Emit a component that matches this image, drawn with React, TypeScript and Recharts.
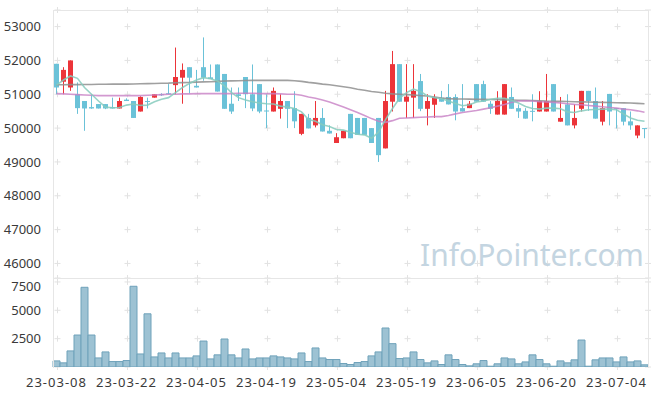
import { ComposedChart, BarChart, Bar, Line, XAxis, YAxis, CartesianGrid } from 'recharts'

const dates = [
  '23-03-08', '23-03-09', '23-03-10', '23-03-13', '23-03-14', '23-03-15', '23-03-16', '23-03-17', '23-03-20', '23-03-21',
  '23-03-22', '23-03-23', '23-03-24', '23-03-27', '23-03-28', '23-03-29', '23-03-30', '23-03-31', '23-04-03', '23-04-04',
  '23-04-05', '23-04-06', '23-04-07', '23-04-10', '23-04-11', '23-04-12', '23-04-13', '23-04-14', '23-04-17', '23-04-18',
  '23-04-19', '23-04-20', '23-04-21', '23-04-24', '23-04-25', '23-04-26', '23-04-27', '23-04-28', '23-05-02', '23-05-03',
  '23-05-04', '23-05-08', '23-05-09', '23-05-10', '23-05-11', '23-05-12', '23-05-15', '23-05-16', '23-05-17', '23-05-18',
  '23-05-19', '23-05-22', '23-05-23', '23-05-24', '23-05-25', '23-05-26', '23-05-30', '23-05-31', '23-06-01', '23-06-02',
  '23-06-05', '23-06-07', '23-06-08', '23-06-09', '23-06-12', '23-06-13', '23-06-14', '23-06-15', '23-06-16', '23-06-19',
  '23-06-20', '23-06-21', '23-06-22', '23-06-23', '23-06-26', '23-06-27', '23-06-28', '23-06-29', '23-06-30', '23-07-03',
  '23-07-04', '23-07-05', '23-07-06', '23-07-07', '23-07-10',
]

const opens = [
  51900, 51370, 51200, 51000, 50800, 50620, 50710, 50710, 50620, 50580,
  50840, 50800, 50490, 50800, 50900, 51000, 51030, 51270, 51490, 51800,
  51250, 51800, 51500, 51880, 51600, 50720, 51000, 51510, 51000, 51300,
  50520, 50490, 50570, 50800, 50590, 49830, 50300, 50080, 50300, 49920,
  49560, 49700, 50420, 50300, 50300, 50000, 50300, 49400, 50780, 51890,
  50780, 50900, 51390, 50570, 50690, 50900, 50920, 50920, 50590, 50590,
  51300, 51300, 50720, 50400, 50400, 50920, 50590, 50510, 50510, 50490,
  50490, 51300, 50190, 50700, 50080, 50570, 51100, 50800, 50190, 51010,
  50590, 50590, 50200, 49780, 50000,
]
const highs = [
  51900, 51800, 52000, 51350, 50800, 51000, 50710, 50710, 50900, 50900,
  50880, 50800, 50940, 50900, 51000, 51030, 51300, 52380, 51910, 51800,
  51720, 52680, 51880, 51880, 51600, 51200, 51200, 51510, 51880, 51300,
  51000, 51200, 51000, 50800, 51090, 50420, 50420, 50800, 50590, 50080,
  49850, 49920, 50420, 50300, 50300, 50000, 50300, 51100, 52280, 51890,
  51890, 51890, 51600, 51000, 51000, 51100, 51300, 51000, 51300, 50800,
  51300, 51400, 50800, 51090, 51300, 51200, 50700, 50590, 51000, 51090,
  51600, 51300, 50920, 51000, 50700, 51100, 51100, 51200, 50800, 51010,
  50590, 50590, 50490, 50080, 50000,
]
const lows = [
  51000, 51000, 51100, 50420, 49920, 50570, 50580, 50560, 50580, 50580,
  50800, 50300, 50490, 50580, 50900, 50950, 51000, 51000, 50720, 51030,
  51200, 51400, 51450, 51080, 50570, 50420, 50800, 50590, 50500, 50440,
  50000, 50490, 50280, 50000, 50000, 49790, 49990, 50020, 49900, 49840,
  49560, 49700, 49700, 49800, 49800, 49560, 49000, 49400, 50490, 50780,
  50300, 50300, 50500, 50080, 50300, 50780, 50700, 50230, 50490, 50590,
  50780, 50780, 50420, 50400, 50400, 50570, 50300, 50280, 50200, 50490,
  50490, 50490, 50190, 50080, 49990, 50490, 50510, 50280, 50080, 50080,
  49990, 50080, 49950, 49700, 49700,
]
const closes = [
  51200, 51720, 52000, 50590, 50580, 50580, 50580, 50580, 50580, 50800,
  50800, 50300, 50920, 50770, 51000, 50980, 51000, 51510, 51720, 51490,
  51200, 51490, 51450, 51080, 50570, 50490, 50950, 51000, 50580, 50490,
  50500, 51100, 50800, 50570, 50200, 50420, 49990, 50300, 49900, 49840,
  49730, 49920, 49700, 49800, 49800, 49560, 49200, 50800, 51890, 50780,
  50930, 51100, 50570, 50800, 50920, 50780, 50700, 50490, 50490, 50720,
  50780, 50780, 50570, 50800, 51300, 50570, 50490, 50280, 50490, 50800,
  50800, 50490, 50300, 50080, 50300, 51100, 50800, 50280, 50590, 50490,
  50570, 50190, 50080, 50080, 49980,
]

const volumes = [
  540, 365, 1420, 2820, 7030, 2820, 800, 1330, 480, 480,
  570, 7120, 1150, 4690, 890, 1240, 800, 1240, 800, 800,
  980, 2290, 715, 1070, 2470, 1070, 800, 1590, 715, 800,
  800, 980, 890, 800, 715, 1240, 480, 1680, 800, 660,
  660, 310, 220, 395, 480, 980, 1330, 3440, 2060, 745,
  800, 1330, 660, 365, 540, 220, 1070, 660, 220, 100,
  280, 570, 70, 280, 800, 715, 280, 450, 1070, 660,
  280, 70, 540, 365, 630, 2380, 70, 630, 800, 800,
  450, 890, 450, 540, 190,
]

const ma5 = [
  51270, 51420, 51540, 51470, 51200, 51000, 50800, 50620, 50600, 50610,
  50680, 50710, 50670, 50680, 50780, 50850, 50900, 51050, 51200, 51320,
  51420, 51490, 51460, 51390, 51250, 51050, 50900, 50830, 50780, 50740,
  50720, 50710, 50650, 50620, 50580, 50480, 50250, 50200, 50100, 50050,
  49960, 49940, 49880, 49820, 49800, 49700, 49880, 50250, 50580, 50880,
  51050, 51150, 51080, 50950, 50900, 50870, 50800, 50730, 50660, 50690,
  50770, 50800, 50850, 50880, 50880, 50820, 50740, 50640, 50580, 50560,
  50590, 50590, 50570, 50480, 50460, 50510, 50540, 50550, 50560, 50560,
  50540, 50420, 50300, 50230, 50200,
]
const ma20 = [
  51020, 51010, 51000, 50990, 50980, 50970, 50960, 50960, 50960, 50960,
  50960, 50960, 50960, 50970, 50980, 50990, 51000, 51000, 51010, 51010,
  51020, 51020, 51020, 51020, 51020, 51020, 51030, 51030, 51030, 51020,
  51020, 51020, 51010, 51000, 51000, 50970, 50920, 50880, 50830, 50770,
  50700, 50620, 50540, 50460, 50370, 50280, 50200, 50170, 50220, 50290,
  50300, 50310, 50320, 50330, 50340, 50340, 50370, 50420, 50460, 50490,
  50520, 50560, 50600, 50650, 50700, 50760, 50800, 50810, 50800, 50780,
  50770, 50760, 50740, 50720, 50700, 50690, 50670, 50650, 50630, 50610,
  50590, 50560, 50540, 50510, 50470,
]
const ma60 = [
  51280, 51280, 51285, 51285, 51290, 51290, 51295, 51295, 51300, 51300,
  51300, 51305, 51310, 51315, 51320, 51325, 51330, 51340, 51345, 51350,
  51360, 51365, 51370, 51380, 51390, 51395, 51400, 51405, 51410, 51410,
  51410, 51410, 51410, 51410, 51400, 51380, 51350, 51330, 51300, 51280,
  51250, 51220, 51190, 51150, 51120, 51080, 51060, 51030, 51010, 51000,
  50990, 50980, 50960, 50950, 50920, 50890, 50870, 50860, 50860, 50855,
  50850, 50850, 50845, 50840, 50835, 50830, 50825, 50820, 50815, 50810,
  50800, 50795, 50790, 50785, 50780, 50775, 50770, 50765, 50760, 50755,
  50750, 50745, 50740, 50730, 50720,
]

const priceTicks = [46000, 47000, 48000, 49000, 50000, 51000, 52000, 53000]
const volumeTicks = [2500, 5000, 7500]

const data = dates.map((date, i) => ({
  date,
  open: opens[i],
  high: highs[i],
  low: lows[i],
  close: closes[i],
  range: [lows[i], highs[i]],
  volume: volumes[i],
  ma5: ma5[i],
  ma20: ma20[i],
  ma60: ma60[i],
}))

const RED = '#ec3439'
const BLUE = '#6bc2d8'
const FONT = '"Noto Sans", sans-serif'
const tickStyle = { fill: '#3a3a3a', fontSize: 13, fontFamily: FONT }

// candle body + wick drawn from the [low, high] range bar
const Candle = (props) => {
  const { x, y, width, height, payload } = props
  const { open, close, high, low } = payload
  const top = Math.min(y, y + height)
  const h = Math.abs(height)
  const ratio = high > low ? h / (high - low) : 0
  const yOf = (v) => top + (high - v) * ratio
  const color = close >= open ? RED : BLUE
  const cx = x + width / 2
  const bodyTop = yOf(Math.max(open, close))
  const bodyH = Math.max(1, yOf(Math.min(open, close)) - bodyTop)
  return (
    <g>
      <line x1={cx} x2={cx} y1={top} y2={top + h} stroke={color} strokeWidth={1} />
      <rect x={x} y={bodyTop} width={width} height={bodyH} fill={color} />
    </g>
  )
}

// grid is only small "+" marks at every 10th category
const plusRow = (props) => {
  const { x1, x2, y1 } = props
  const step = (x2 - x1) / dates.length
  const marks = []
  for (let k = 0; k < dates.length; k += 10) {
    const cx = Math.round(x1 + step * (k + 0.5)) + 0.5
    marks.push(<path key={k} d={`M${cx - 3},${y1}H${cx + 3}M${cx},${y1 - 3}V${y1 + 3}`} stroke="#e2e2e2" />)
  }
  marks.push(<path key="r" d={`M${x2 - 3},${y1}H${x2 + 3}`} stroke="#e2e2e2" />)
  return <g key={props.key}>{marks}</g>
}

export default function App() {
  return (
    <div style={{ position: 'absolute', left: 0, top: 0, width: 657, height: 396, background: '#fff' }}>
      <div style={{ position: 'absolute', left: 0, top: 0 }}>
        <ComposedChart width={657} height={278} data={data} margin={{ top: 10, right: 9, bottom: 0, left: 0 }}>
          <CartesianGrid vertical={false} horizontal={plusRow} />
          <XAxis dataKey="date" hide />
          <YAxis
            width={53}
            domain={[45570, 53490]}
            ticks={priceTicks}
            allowDataOverflow
            axisLine={false}
            tickLine={false}
            tickMargin={6}
            tick={tickStyle}
          />
          <Bar dataKey="range" barSize={5} shape={<Candle />} isAnimationActive={false} />
          <Line type="linear" dataKey="ma60" stroke="#8f8f8f" strokeOpacity={0.85} strokeWidth={1.6} dot={false} isAnimationActive={false} />
          <Line type="linear" dataKey="ma20" stroke="#c77fc4" strokeOpacity={0.8} strokeWidth={1.6} dot={false} isAnimationActive={false} />
          <Line type="linear" dataKey="ma5" stroke="#86cbbd" strokeOpacity={0.85} strokeWidth={1.6} dot={false} isAnimationActive={false} />
        </ComposedChart>
      </div>
      <div style={{ position: 'absolute', left: 0, top: 278 }}>
        <BarChart width={657} height={118} data={data} margin={{ top: 0, right: 9, bottom: 0, left: 0 }} barCategoryGap={0}>
          <CartesianGrid vertical={false} horizontal={plusRow} />
          <XAxis
            dataKey="date"
            interval={9}
            height={29}
            axisLine={false}
            tickLine={false}
            tickMargin={5}
            tick={{ ...tickStyle, letterSpacing: 1 }}
          />
          <YAxis
            width={53}
            domain={[0, 7850]}
            ticks={volumeTicks}
            allowDataOverflow
            axisLine={false}
            tickLine={false}
            tickMargin={6}
            tick={tickStyle}
          />
          <Bar dataKey="volume" fill="#9dc2d3" stroke="#6fa2ba" strokeWidth={1} isAnimationActive={false} />
        </BarChart>
      </div>
      <div style={{ position: 'absolute', left: 53, top: 10, width: 594, height: 357, borderTop: '1px solid #e6e6e6', borderLeft: '1px solid #e6e6e6', borderRight: '1px solid #e6e6e6', pointerEvents: 'none' }} />
      <div style={{ position: 'absolute', left: 53, top: 278, width: 596, height: 1, background: '#e6e6e6', pointerEvents: 'none' }} />
      <div style={{ position: 'absolute', left: 420, top: 240, fontFamily: FONT, fontSize: 30, lineHeight: '30px', color: '#c4d5e1', whiteSpace: 'nowrap', pointerEvents: 'none' }}>
        InfoPointer.com
      </div>
    </div>
  )
}
